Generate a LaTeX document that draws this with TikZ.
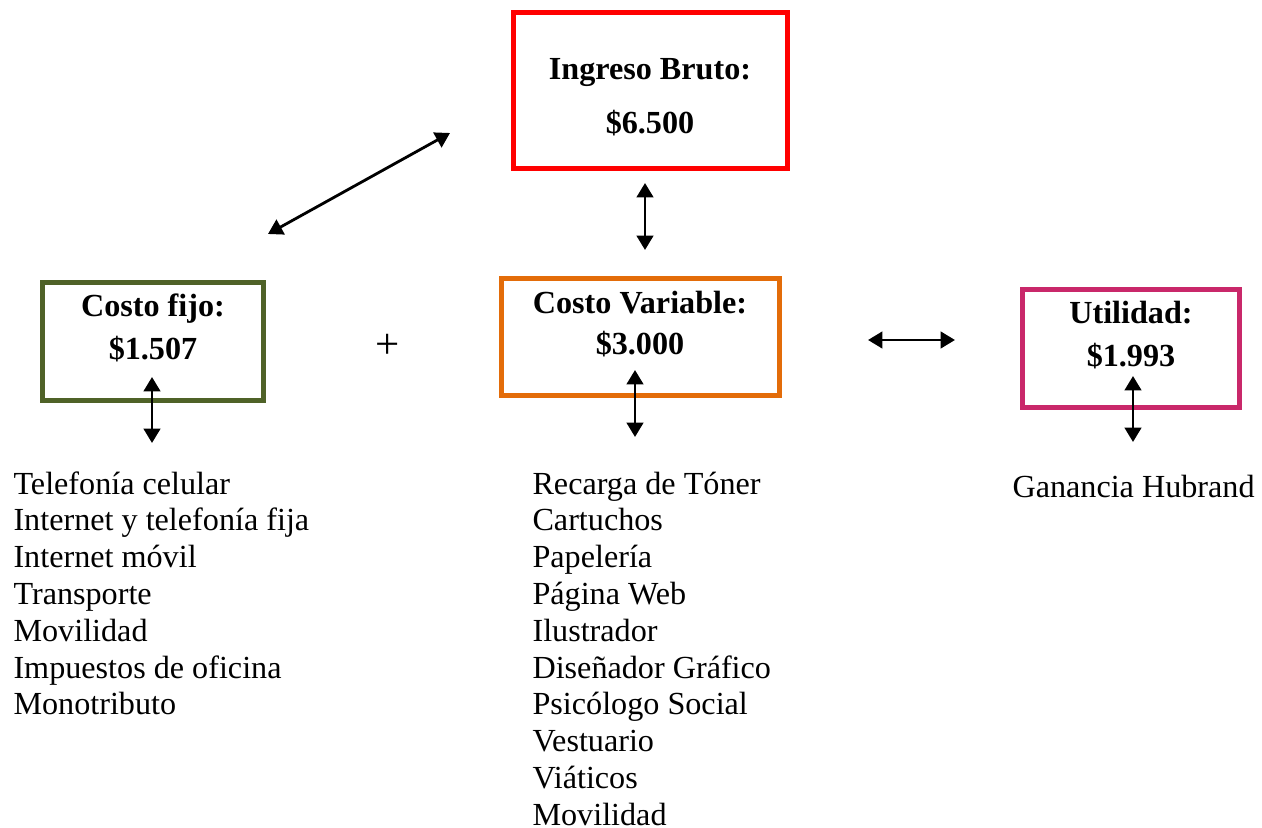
\documentclass[tikz,border=0pt]{standalone}
\usepackage{fontspec}
\setmainfont{Liberation Serif}
\usetikzlibrary{arrows.meta}
\definecolor{boxred}{HTML}{FF0000}
\definecolor{boxolive}{HTML}{4F6228}
\definecolor{boxorange}{HTML}{E36C09}
\definecolor{boxpink}{HTML}{C9286A}
\begin{document}
\begin{tikzpicture}[x=0.373pt,y=-0.373pt,
  costbox/.style={draw=#1,line width=1.87pt,inner sep=0pt},
  title/.style={font=\fontsize{12}{14}\selectfont\bfseries,inner sep=0pt,anchor=base},
  item/.style={font=\fontsize{12}{14}\selectfont,inner sep=0pt,anchor=base west},
  link/.style={line width=1.05pt,{Triangle[length=5.4pt,width=6.2pt]}-{Triangle[length=5.4pt,width=6.2pt]}}]
\path[use as bounding box] (0,0) rectangle (1262,828);

% boxes
\node[costbox=boxred,minimum width=274*0.373pt,minimum height=156*0.373pt] (ingreso) at (650.5,90.5) {};
\node[costbox=boxolive,minimum width=221*0.373pt,minimum height=118*0.373pt] (fijo) at (153,341.5) {};
\node[costbox=boxorange,minimum width=278*0.373pt,minimum height=117*0.373pt] (variable) at (640.5,337) {};
\node[costbox=boxpink,minimum width=217*0.373pt,minimum height=118*0.373pt] (utilidad) at (1131,348.5) {};

% box titles
\node[title] (t1) at (650,80) {Ingreso Bruto:};
\node[title] (t2) at (650,134) {\$6.500};
\node[title] (t3) at (153,316) {Costo fijo:};
\node[title] (t4) at (153,359) {\$1.507};
\node[title] (t5) at (640,313) {Costo Variable:};
\node[title] (t6) at (640,355) {\$3.000};
\node[title] (t7) at (1131,324) {Utilidad:};
\node[title] (t8) at (1131,366) {\$1.993};

% plus sign
\node[font=\fontsize{16}{18}\selectfont,inner sep=0pt] (plus) at (388,346) {+};

% arrow end points
\coordinate (d1) at (268,234);
\coordinate (d2) at (450,133);
\coordinate (v1a) at (645,183);
\coordinate (v1b) at (645,250);
\coordinate (v2a) at (152,377);
\coordinate (v2b) at (152,443);
\coordinate (v3a) at (635,370);
\coordinate (v3b) at (635,437);
\coordinate (v4a) at (1133,376);
\coordinate (v4b) at (1133,442);
\coordinate (h1a) at (868,340);
\coordinate (h1b) at (955,340);

\draw[link] (d1) -- (d2);
\draw[link] (v1a) -- (v1b);
\draw[link] (v2a) -- (v2b);
\draw[link] (v3a) -- (v3b);
\draw[link] (v4a) -- (v4b);
\draw[link] (h1a) -- (h1b);

% fixed costs
\foreach \t [count=\i from 0] in {Telefonía celular,Internet y telefonía fija,Internet móvil,Transporte,Movilidad,Impuestos de oficina,Monotributo}
  \node[item] (f\i) at (13,494+36.8*\i) {\t};

% variable costs
\foreach \t [count=\i from 0] in {Recarga de Tóner,Cartuchos,Papelería,Página Web,Ilustrador,Diseñador Gráfico,Psicólogo Social,Vestuario,Viáticos,Movilidad}
  \node[item] (v\i) at (532,494+36.8*\i) {\t};

% profit
\node[item] (g0) at (1012,497) {Ganancia Hubrand};
\end{tikzpicture}
\end{document}
